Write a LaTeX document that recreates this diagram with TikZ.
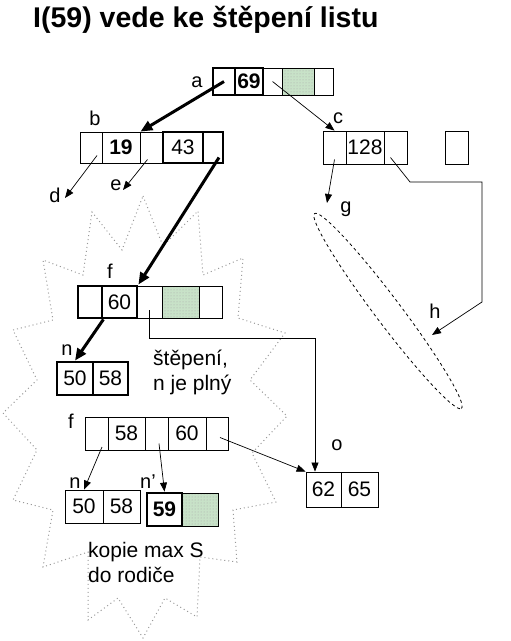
\documentclass[tikz,border=0pt]{standalone}
\usepackage{fontspec}
\setmainfont{Liberation Sans}
\usetikzlibrary{arrows.meta,patterns}
\definecolor{cellgreen}{RGB}{200,226,200}
\tikzset{
  cell/.style={draw, line width=0.8pt, inner sep=0pt, font=\fontsize{21}{21}\selectfont},
  thickcell/.style={cell, line width=2.8pt},
  greencell/.style={cell, preaction={fill=cellgreen}, pattern=dots, pattern color=gray!70},
  lbl/.style={inner sep=0pt, anchor=base, font=\fontsize{20}{20}\selectfont},
  note/.style={inner sep=0pt, anchor=base west, align=left, font=\fontsize{21}{25}\selectfont},
  ptr/.style={line width=0.7pt, -{Triangle[length=9pt,width=7pt]}},
  bigptr/.style={line width=3pt, -{Triangle[length=12pt,width=10pt]}},
  burst/.style={gray!80, line width=1pt, dash pattern=on 1pt off 3pt}
}
\begin{document}
\begin{tikzpicture}[x=1pt,y=-1pt]
    \useasboundingbox (0,0) rectangle (511,641);
    % splitting area
    \draw[burst] (143,196) -- (163,246) -- (198,211) -- (203,275) -- (243,258)
        -- (238,318) -- (285,333) -- (250,380) -- (287,416) -- (252,453)
        -- (276,502) -- (233,510) -- (237,562) -- (200,557) -- (197,617)
        -- (165,598) -- (143,638) -- (118,598) -- (88,620) -- (88,552)
        -- (43,567) -- (53,510) -- (13,500) -- (37,450) -- (3,413)
        -- (37,380) -- (13,330) -- (53,320) -- (43,260) -- (83,275)
        -- (92,212) -- (122,250) -- cycle;
    \node[inner sep=0pt, anchor=base west, font=\fontsize{28.5}{28.5}\selectfont\bfseries] at (33,27) (title) {I(59) vede ke štěpení listu};
    % node a
    \node[cell,minimum width=19pt,minimum height=27pt] at (272.5,81.5) (a3) {};
    \node[greencell,minimum width=32pt,minimum height=27pt] at (298,81.5) (a4) {};
    \node[cell,minimum width=19pt,minimum height=27pt] at (323.5,81.5) (a5) {};
    \node[thickcell,minimum width=22pt,minimum height=27pt] at (224,81.5) (a1) {};
    \node[thickcell,minimum width=28pt,minimum height=27pt] at (249,81.5) (a2) {\bfseries 69};
    \node[lbl] at (197,87) (la) {a};
    % node b
    \node[cell,minimum width=22pt,minimum height=31pt] at (91,147.5) (b1) {};
    \node[cell,minimum width=38pt,minimum height=31pt] at (121,147.5) (b2) {\bfseries 19};
    \node[cell,minimum width=23pt,minimum height=31pt] at (151.5,147.5) (b3) {};
    \node[thickcell,minimum width=40pt,minimum height=31pt] at (183,147.5) (b4) {43};
    \node[thickcell,minimum width=20pt,minimum height=31pt] at (213,147.5) (b5) {};
    \node[lbl] at (95,125) (lb) {b};
    % node c
    \node[cell,minimum width=23pt,minimum height=33pt] at (334.5,147.5) (c1) {};
    \node[cell,minimum width=38pt,minimum height=33pt] at (365,147.5) (c2) {128};
    \node[cell,minimum width=23pt,minimum height=33pt] at (395.5,147.5) (c3) {};
    \node[cell,minimum width=23pt,minimum height=33pt] at (456.5,147.5) (c9) {};
    \node[lbl] at (338,123) (lc) {c};
    % leaves under b and c
    \node[lbl] at (55,202) (ld) {d};
    \node[lbl] at (116,190) (le) {e};
    \node[lbl] at (346,212) (lg) {g};
    \node[lbl] at (435,318) (lh) {h};
    \coordinate (dtip) at (65,198);
    \coordinate (etip) at (123,190);
    \coordinate (gtip) at (327,203);
    \coordinate (htip) at (432,335);
    \draw[dashed, line width=0.8pt, rotate around={-53:(388,311)}] (388,311) ellipse [x radius=122pt, y radius=13pt];
    % node f before split
    \node[cell,minimum width=25pt,minimum height=32pt] at (149.5,302) (f3) {};
    \node[greencell,minimum width=37pt,minimum height=32pt] at (180.5,302) (f4) {};
    \node[cell,minimum width=23pt,minimum height=32pt] at (210.5,302) (f5) {};
    \node[thickcell,minimum width=24pt,minimum height=32pt] at (90,302) (f1) {};
    \node[thickcell,minimum width=35pt,minimum height=32pt] at (119.5,302) (f2) {60};
    \node[lbl] at (110,278) (lf) {f};
    % full leaf n
    \node[thickcell,minimum width=36pt,minimum height=33pt] at (75,378.5) (n1) {50};
    \node[thickcell,minimum width=35pt,minimum height=33pt] at (110.5,378.5) (n2) {58};
    \node[lbl] at (67,355) (ln) {n};
    \node[note] at (153,390) (split) {štěpení,\\n je plný};
    % node f after split
    \node[cell,minimum width=23pt,minimum height=33pt] at (96.5,433.5) (l1) {};
    \node[cell,minimum width=37pt,minimum height=33pt] at (126.5,433.5) (l2) {58};
    \node[cell,minimum width=23pt,minimum height=33pt] at (156.5,433.5) (l3) {};
    \node[cell,minimum width=38pt,minimum height=33pt] at (187,433.5) (l4) {60};
    \node[cell,minimum width=22pt,minimum height=33pt] at (217,433.5) (l5) {};
    \node[lbl] at (71,428) (lf2) {f};
    % leaves n and n'
    \node[cell,minimum width=38pt,minimum height=33pt] at (84,506.5) (m1) {50};
    \node[cell,minimum width=37pt,minimum height=33pt] at (121.5,506.5) (m2) {58};
    \node[greencell,minimum width=36pt,minimum height=33pt] at (200,509.5) (p2) {};
    \node[thickcell,minimum width=35pt,minimum height=33pt] at (164.5,509.5) (p1) {\bfseries 59};
    \node[lbl] at (75,488) (lm) {n};
    \node[lbl] at (148,488) (lp) {n’};
    \node[note] at (88,582) (copy) {kopie max S\\do rodiče};
    % leaf o
    \node[cell,minimum width=35pt,minimum height=35pt] at (323.5,489.5) (o1) {62};
    \node[cell,minimum width=37pt,minimum height=35pt] at (359.5,489.5) (o2) {65};
    \node[lbl] at (337,450) (lo) {o};
    % pointers
    \draw[bigptr] (a1.center) -- (b2.north east);
    \draw[ptr] (a3.center) -- (c1.north);
    \draw[ptr] ([xshift=6pt,yshift=-8pt]b1.center) -- (dtip);
    \draw[ptr] ([xshift=-4pt,yshift=-12pt]b3.center) -- (etip);
    \draw[bigptr] ([xshift=6pt,yshift=-10pt]b5.center) -- (f2.north east);
    \draw[ptr] ([yshift=-12pt]c1.center) -- (gtip);
    \draw[ptr] ([xshift=-5pt,yshift=-10pt]c3.center) -- (410,182) -- (482,182) -- (482,302) -- (htip);
    \draw[bigptr] (f1.south east) -- (n1.north);
    \draw[ptr] ([yshift=-8pt]f3.center) -- ++(0,28) -| ([xshift=-8.5pt]o1.north);
    \draw[ptr] ([xshift=5.5pt,yshift=-13.5pt]l1.center) -- (m1.north);
    \draw[ptr] ([xshift=2.5pt,yshift=-10pt]l3.center) -- (p1.north);
    \draw[ptr] ([xshift=3pt,yshift=-4pt]l5.center) -- (o1.north west);
\end{tikzpicture}
\end{document}
